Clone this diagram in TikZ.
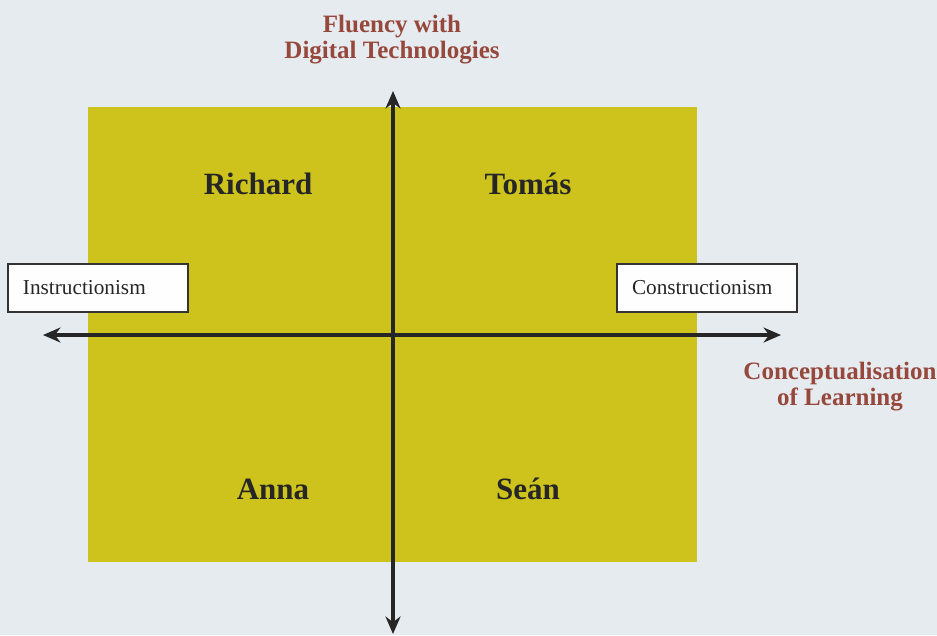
\documentclass[tikz,border=0pt]{standalone}
\usepackage{fontspec}
\setmainfont{Liberation Serif}
\usetikzlibrary{arrows.meta}

\definecolor{paper}{RGB}{230,235,240}
\definecolor{quad}{RGB}{205,195,28}
\definecolor{axislabel}{RGB}{150,72,60}

\begin{document}
\begin{tikzpicture}[x=0.4pt,y=-0.4pt,
        person/.style={font=\bfseries\fontsize{12.4}{14}\selectfont, text=black!85},
        axistitle/.style={font=\bfseries\fontsize{10}{10.4}\selectfont, text=axislabel, align=center},
        pole/.style={draw=black!80, fill=white!95!paper, line width=0.8pt, text width=60pt, align=left, inner xsep=6pt, minimum height=19pt, font=\fontsize{8.5}{10}\selectfont, text=black!85},
        axis/.style={line width=1.3pt, black!85, {Stealth[length=7pt,width=6pt]}-{Stealth[length=7pt,width=6pt]}}]
        \fill[paper] (0,0) rectangle (937,635);
        \useasboundingbox (0,0) rectangle (937,635);
        \fill[quad] (88,107) rectangle (697,562);
        % axes
        \coordinate (top) at (393,91);
        \coordinate (bottom) at (393,634);
        \coordinate (left) at (43,335);
        \coordinate (right) at (781,335);
        \draw[axis] (bottom) -- (top);
        \draw[axis] (left) -- (right);
        % axis titles
        \node[axistitle] (fluency) at (392,40) {Fluency with\\Digital Technologies};
        \node[axistitle] (concept) at (840,387) {Conceptualisation\\of Learning};
        % poles of the learning axis
        \node[pole] (instr) at (98,288) {Instructionism};
        \node[pole] (constr) at (707,288) {Constructionism};
        % quadrants
        \node[person] (richard) at (258,184) {Richard};
        \node[person] (tomas) at (528,184) {Tomás};
        \node[person] (anna) at (273,489) {Anna};
        \node[person] (sean) at (528,489) {Seán};
    \end{tikzpicture}
\end{document}
